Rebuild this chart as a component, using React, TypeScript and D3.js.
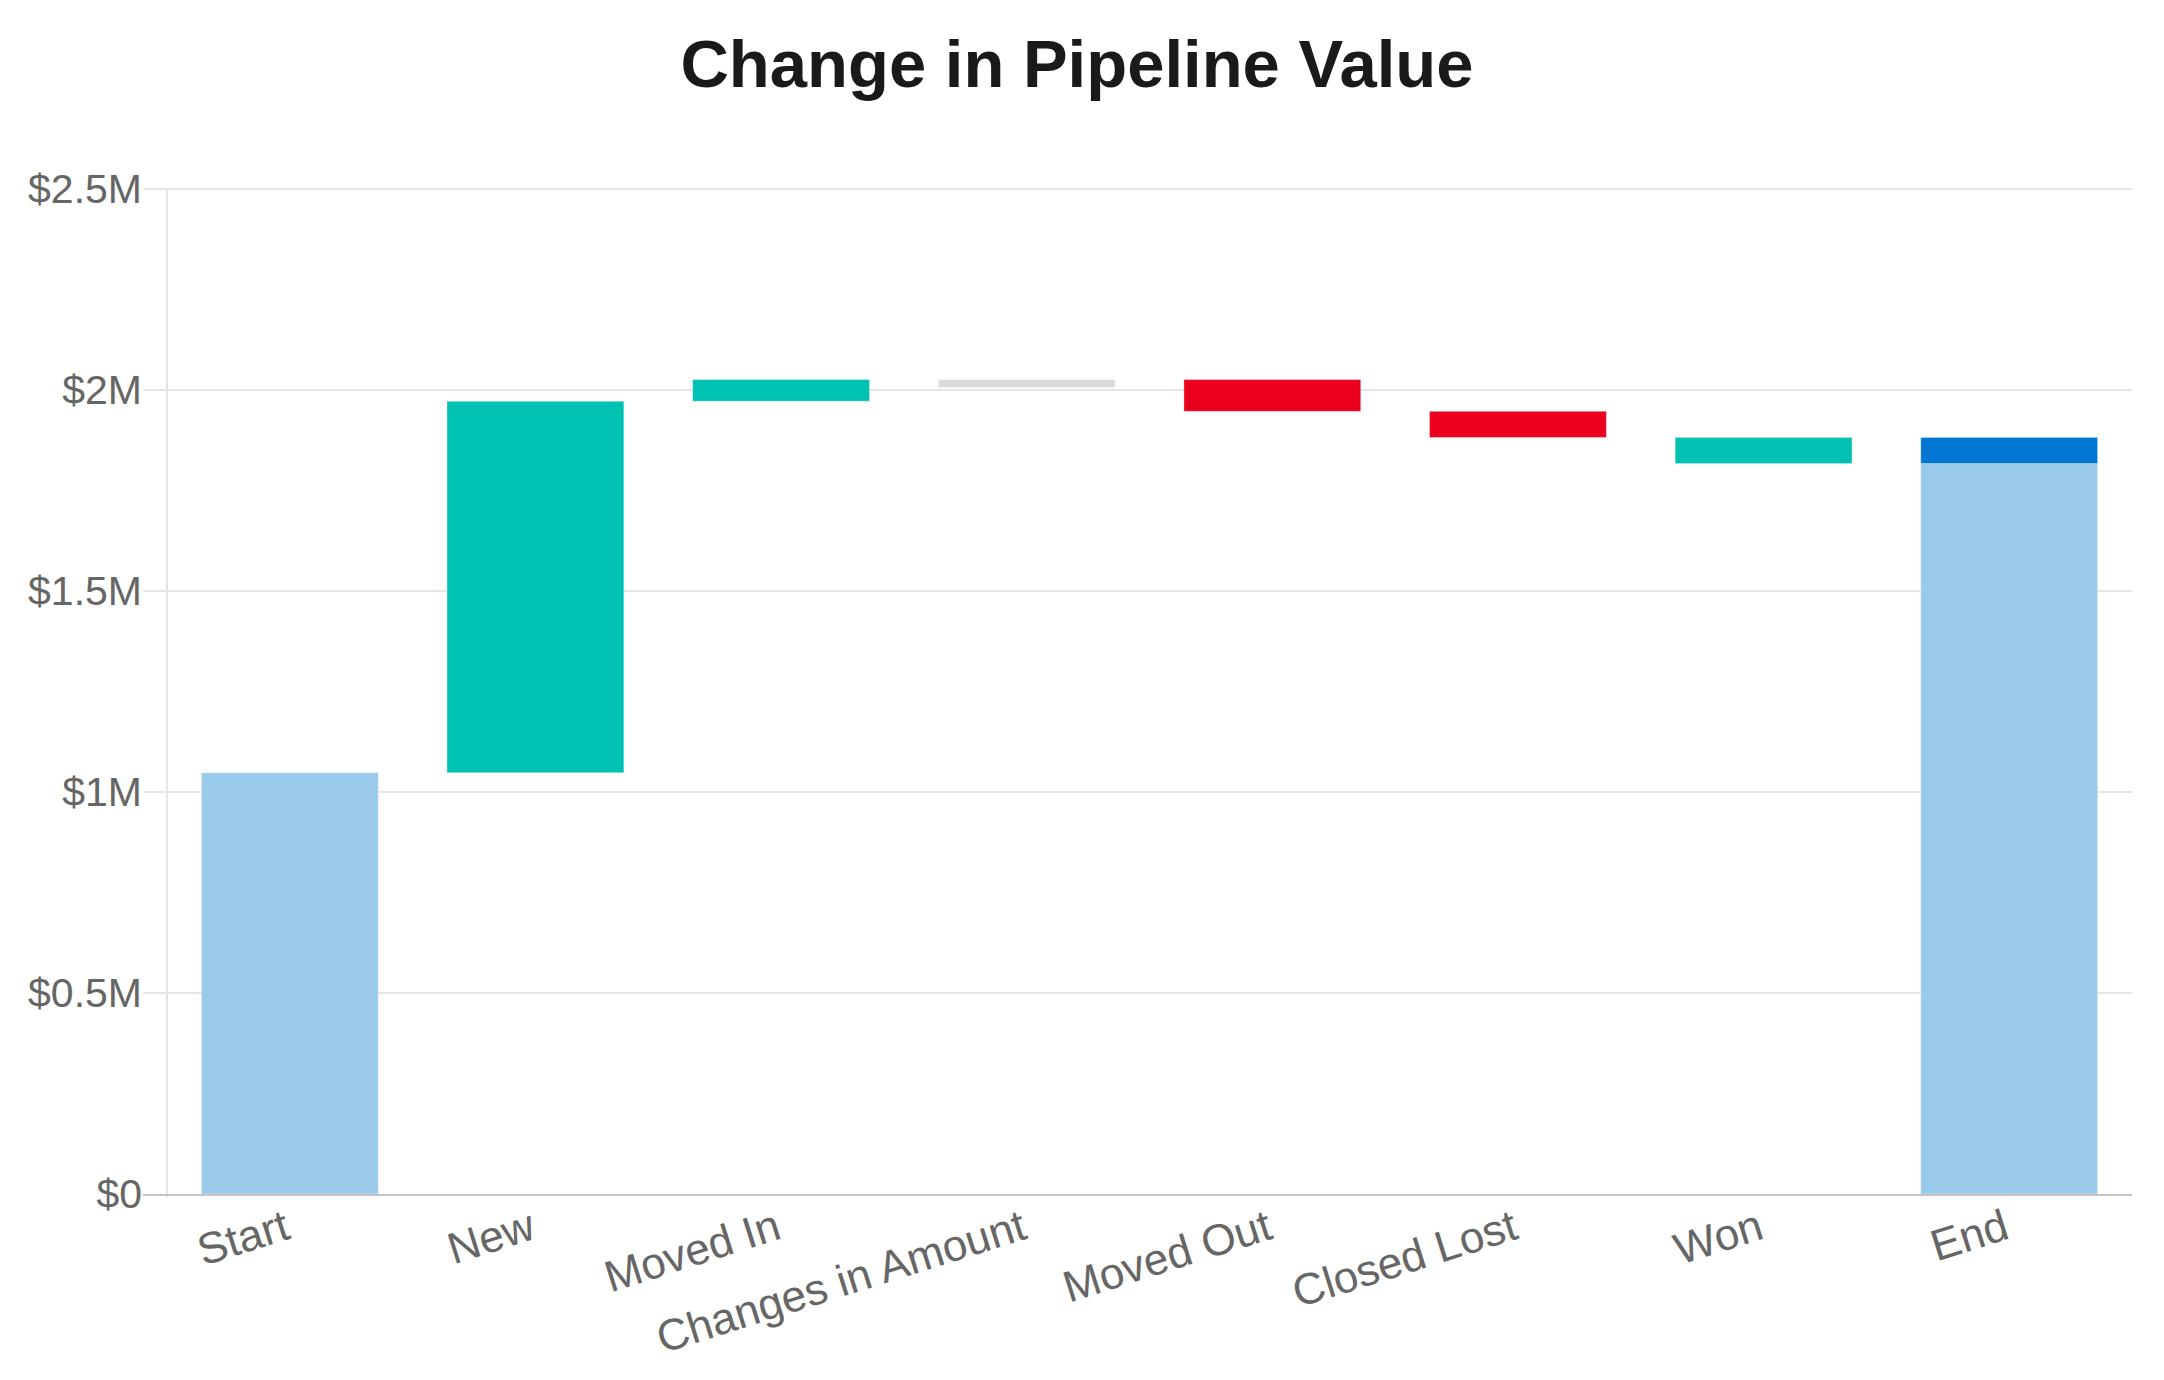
import React from "react";
import * as d3 from "d3";

const categories = ["Start", "New", "Moved In", "Changes in Amount", "Moved Out", "Closed Lost", "Won", "End"];
const kinds = ["total", "increase", "increase", "change", "decrease", "decrease", "won", "total"];
const startValue = 1048000;
const stepDeltas = [924000, 54000, 0, -79000, -65000, -65000];
const yTicks = [0, 500000, 1000000, 1500000, 2000000, 2500000];
const title = "Change in Pipeline Value";

const W = 2164;
const H = 1380;
const M = { top: 189, right: 32, bottom: 186, left: 167 };

const COLORS: Record<string, string> = {
  total: "#9acae9",
  increase: "#00c2b3",
  won: "#00c2b3",
  decrease: "#ea001e",
  change: "#dddbda",
  cap: "#0176d3",
};

const FONT = "'Liberation Sans', Arial, Helvetica, sans-serif";

function fmt(v: number) {
  if (v === 0) return "$0";
  return "$" + d3.format("~g")(v / 1e6) + "M";
}

export default function App() {
  const x = d3
    .scaleBand<string>()
    .domain(categories)
    .range([M.left, W - M.right])
    .paddingInner(0.28)
    .paddingOuter(0.14);
  const y = d3.scaleLinear().domain([0, 2500000]).range([H - M.bottom, M.top]);
  const bw = x.bandwidth();
  const minPx = 8;

  type Seg = { cat: string; y0: number; y1: number; color: string };
  const segs: Seg[] = [];
  let running = startValue;
  segs.push({ cat: categories[0], y0: 0, y1: startValue, color: COLORS.total });
  let wonAmount = 0;
  stepDeltas.forEach((d, i) => {
    const cat = categories[i + 1];
    const kind = kinds[i + 1];
    const from = running;
    const to = running + d;
    running = to;
    if (kind === "won") wonAmount = Math.abs(d);
    segs.push({ cat, y0: from, y1: to, color: COLORS[kind] });
  });
  const endCat = categories[categories.length - 1];
  segs.push({ cat: endCat, y0: 0, y1: running, color: COLORS.total });
  segs.push({ cat: endCat, y0: running, y1: running + wonAmount, color: COLORS.cap });

  const x0 = M.left;
  const x1 = W - M.right;
  const yBase = y(0);

  return (
    <svg
      width={W}
      height={H}
      style={{ position: "absolute", left: 0, top: 0, display: "block", background: "#fff" }}
      fontFamily={FONT}
    >
      <text x={1077} y={87} textAnchor="middle" fontSize={67} fontWeight="bold" fill="#1a1a1a">
        {title}
      </text>

      {yTicks.map((t) => (
        <g key={t}>
          {t !== 0 && (
            <line x1={x0 - 24} x2={x1} y1={y(t)} y2={y(t)} stroke="#e5e5e5" strokeWidth={2} />
          )}
          <text x={x0 - 25} y={y(t)} dy="0.33em" textAnchor="end" fontSize={41} fill="#666">
            {fmt(t)}
          </text>
        </g>
      ))}
      <line x1={x0} x2={x0} y1={M.top} y2={yBase + 3} stroke="#e5e5e5" strokeWidth={2} />

      {segs.map((s, i) => {
        const top = Math.min(y(s.y0), y(s.y1));
        let h = Math.abs(y(s.y0) - y(s.y1));
        if (h < minPx) h = minPx;
        return (
          <rect
            key={i}
            x={x(s.cat)!}
            y={top}
            width={bw}
            height={h}
            fill={s.color}
            stroke="#ffffff"
            strokeOpacity={0.35}
            strokeWidth={1}
          />
        );
      })}

      <line x1={x0 - 24} x2={x1} y1={yBase + 1} y2={yBase + 1} stroke="#c4c4c4" strokeWidth={2} />

      {categories.map((c) => (
        <text
          key={c}
          transform={`translate(${x(c)! + bw / 2 + 2},${yBase + 44}) rotate(-17.5)`}
          textAnchor="end"
          fontSize={44}
          fill="#666"
        >
          {c}
        </text>
      ))}
    </svg>
  );
}
